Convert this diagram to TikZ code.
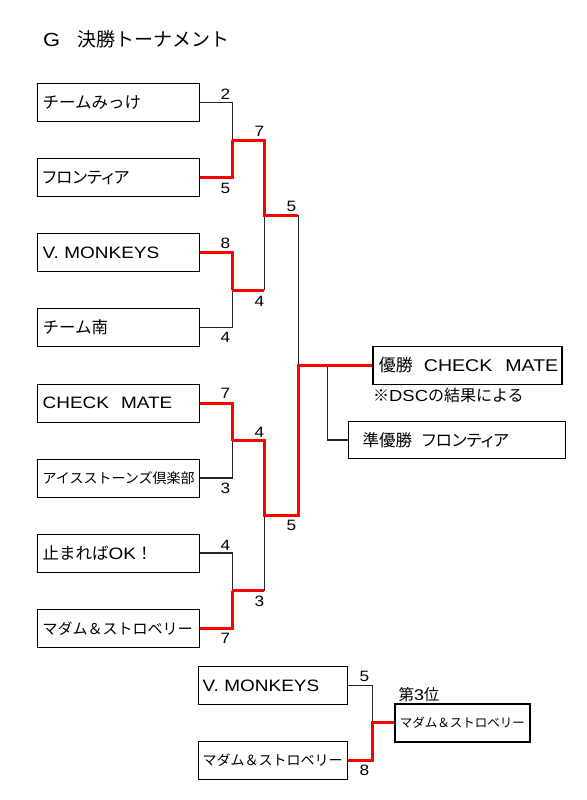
\documentclass[tikz,border=0pt]{standalone}
\usepackage{fontspec}
\setmainfont{Noto Sans CJK JP}
\newfontfamily\jpp{Noto Sans CJK JP}[RawFeature=+palt]
\newfontfamily\lat{Liberation Sans}[FakeStretch=1.15]
\usetikzlibrary{calc}
\begin{document}
\begin{tikzpicture}[x=1pt,y=-1pt,
  team/.style={draw=black, line width=1.3pt, minimum height=38pt, text width=152pt,
    inner xsep=5pt, inner ysep=0pt, align=left, anchor=north west,
    font=\fontsize{16.5}{18}\selectfont},
  smallteam/.style={team, text width=141pt, inner xsep=4pt, minimum height=37.5pt},
  blk/.style={draw=black!85, line width=1.4pt},
  win/.style={draw=red, line width=3pt, line join=miter},
  score/.style={inner sep=0pt, font=\lat\fontsize{15}{15}\selectfont},
  lbl/.style={inner sep=0pt, anchor=west}
]
\useasboundingbox (0,0) rectangle (586,800);

% title
\node[lbl, font=\fontsize{19}{20}\selectfont] (title) at (43,39) {{\lat G}\hspace{17pt}決勝トーナメント};

% teams
\node[team] (t1) at (37,83) {チームみっけ};
\node[team] (t2) at (37,158) {{\jpp フロンティア}};
\node[team] (t3) at (37,233) {{\lat V. MONKEYS}};
\node[team] (t4) at (37,308) {チーム南};
\node[team] (t5) at (37,383.5) {{\lat CHECK}\hspace{12pt}{\lat MATE}};
\node[team, font=\fontsize{14}{16}\selectfont] (t6) at (37,458.5) {アイスストーンズ倶楽部};
\node[team] (t7) at (37,533.5) {止まれば{\lat OK}！};
\node[team, font=\fontsize{15}{17}\selectfont] (t8) at (37,609) {マダム＆ストロベリー};

% join points
\coordinate (m1) at ($(t1.east)!0.5!(t2.east)+(32,0)$);
\coordinate (m2) at ($(t3.east)!0.5!(t4.east)+(32,0)$);
\coordinate (m3) at ($(t5.east)!0.5!(t6.east)+(32,0)$);
\coordinate (m4) at ($(t7.east)!0.5!(t8.east)+(32,0)$);
\coordinate (s1) at ($(m1)!0.5!(m2)+(32,0)$);
\coordinate (s2) at ($(m3)!0.5!(m4)+(32,0)$);
\coordinate (f) at ($(s1)!0.5!(s2)+(34,0)$);
\coordinate (rj) at ($(f)+(29,0)$);

% final boxes
\node[draw=black, line width=1.3pt, minimum height=37.5pt, text width=185pt, inner xsep=2pt,
  inner ysep=0pt, align=left, anchor=west, font=\fontsize{17}{18}\selectfont]
  (champ) at ($(f)+(74,0)$) {\hspace*{4pt}優勝\hspace{11pt}{\lat CHECK}\hspace{13pt}{\lat MATE}};
\node[lbl, font=\fontsize{16}{17}\selectfont] (note) at (373,395) {※{\lat DSC}の結果による};
\node[draw=black, line width=1.3pt, minimum height=37pt, text width=189pt, inner xsep=14pt,
  inner ysep=0pt, align=left, anchor=west, font=\fontsize{16.5}{18}\selectfont]
  (ru) at (348,440) {準優勝\hspace{10pt}{\jpp フロンティア}};

% connectors, black
\draw[blk] (t1.east) -| (m1);
\draw[blk] (t4.east) -| (m2);
\draw[blk] (t6.east) -| (m3);
\draw[blk] (t7.east) -| (m4);
\draw[blk] (m2 -| s1) -- (s1);
\draw[blk] (m4 -| s2) -- (s2);
\draw[blk] (s1 -| f) -- (f);
\draw[blk] (rj) |- (ru.west);

% connectors, red
\draw[win] (t2.east) -| (m1);
\draw[win] (t3.east) -| (m2);
\draw[win] (t5.east) -| (m3);
\draw[win] (t8.east) -| (m4);
\draw[win] (m1) -| (s1) -- (s1 -| f);
\draw[win] (m2) -- (m2 -| s1);
\draw[win] (m3) -| (s2) -- (s2 -| f) -- (f) -- (champ.west);
\draw[win] (m4) -- (m4 -| s2);

% scores
\node[score] (c1) at ($(t1.east)+(25,-8)$) {2};
\node[score] (c2) at ($(t2.east)+(25,10.5)$) {5};
\node[score] (c3) at ($(t3.east)+(25,-9)$) {8};
\node[score] (c4) at ($(t4.east)+(25,10)$) {4};
\node[score] (c5) at ($(t5.east)+(25,-9.5)$) {7};
\node[score] (c6) at ($(t6.east)+(25,10.5)$) {3};
\node[score] (c7) at ($(t7.east)+(25,-8)$) {4};
\node[score] (c8) at ($(t8.east)+(25,10)$) {7};
\node[score] (d1) at ($(m1)+(27,-9)$) {7};
\node[score] (d2) at ($(m2)+(27,11)$) {4};
\node[score] (d3) at ($(m3)+(27,-8)$) {4};
\node[score] (d4) at ($(m4)+(27,10.5)$) {3};
\node[score] (e1) at ($(s1)+(27,-8.5)$) {5};
\node[score] (e2) at ($(s2)+(27,10)$) {5};

% third place
\node[smallteam] (b1) at (198,666) {{\lat V. MONKEYS}};
\node[smallteam, font=\fontsize{14}{16}\selectfont] (b2) at (198,741) {マダム＆ストロベリー};
\coordinate (j3) at ($(b1.east)!0.5!(b2.east)+(24,0)$);
\node[draw=black, line width=1.3pt, minimum height=38pt, text width=125pt, inner xsep=5pt,
  inner ysep=0pt, align=left, anchor=west, font=\fontsize{12.5}{14}\selectfont]
  (third) at ($(j3)+(22,0)$) {マダム＆ストロベリー};
\node[inner sep=0pt, font=\fontsize{15.5}{16}\selectfont] (tl) at (419,695) {第{\lat 3}位};
\draw[blk] (b1.east) -| (j3);
\draw[win] (b2.east) -| (j3) -- (third.west);
\node[score] (g1) at ($(b1.east)+(16,-8.5)$) {5};
\node[score] (g2) at ($(b2.east)+(16,10)$) {8};
\end{tikzpicture}
\end{document}
